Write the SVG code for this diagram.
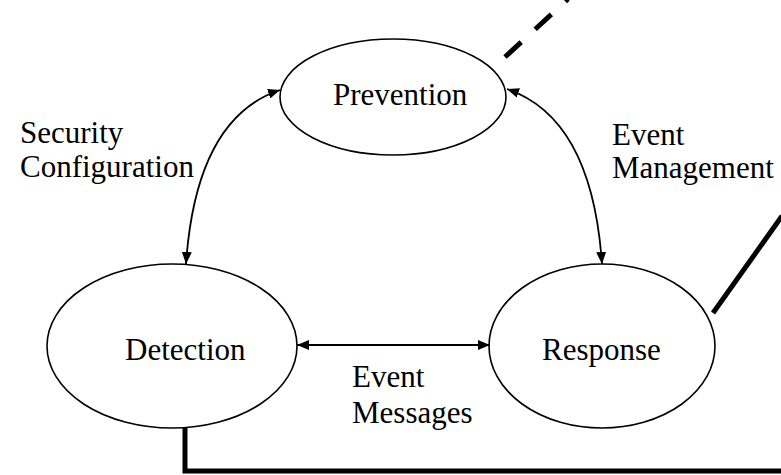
<svg xmlns="http://www.w3.org/2000/svg" width="781" height="475" viewBox="0 0 781 475">
<style>
.node ellipse{fill:#fff;stroke:#000;stroke-width:1.6}
text{font-family:"Liberation Serif","Times New Roman",serif;font-size:31px;fill:#000}
.conn{fill:none;stroke:#000;stroke-width:1.8}
.thick{fill:none;stroke:#000;stroke-width:5}
</style>
<defs>
<marker id="ah" viewBox="0 0 12 10" refX="12" refY="5" markerWidth="12" markerHeight="10" markerUnits="userSpaceOnUse" orient="auto-start-reverse">
<path d="M0,0 L12,5 L0,10 Z" fill="#000"/>
</marker>
</defs>
<g id="thick-lines">
<path class="thick" d="M505,57 L568,-1" stroke-dasharray="22,19"/>
<path class="thick" d="M713,313 L782,216"/>
<path class="thick" d="M185,428 L185,471 L782,471"/>
</g>
<g id="prevention" class="node">
<ellipse cx="393" cy="97" rx="113" ry="58"/>
<text x="333" y="105">Prevention</text>
</g>
<g id="detection" class="node">
<ellipse cx="172" cy="346" rx="125" ry="82"/>
<text x="125" y="360">Detection</text>
</g>
<g id="response" class="node">
<ellipse cx="602" cy="346" rx="113" ry="82"/>
<text x="542" y="360">Response</text>
</g>
<g id="connectors">
<path class="conn" d="M186,264 Q196,118 280,90" marker-start="url(#ah)" marker-end="url(#ah)"/>
<path class="conn" d="M602,264 Q592,118 507,89" marker-start="url(#ah)" marker-end="url(#ah)"/>
<path class="conn" d="M297,345 L490,345" marker-start="url(#ah)" marker-end="url(#ah)"/>
</g>
<g id="labels">
<text x="20" y="143">Security</text>
<text x="20" y="177">Configuration</text>
<text x="612" y="145">Event</text>
<text x="612" y="178">Management</text>
<text x="352" y="387">Event</text>
<text x="352" y="423">Messages</text>
</g>
</svg>
